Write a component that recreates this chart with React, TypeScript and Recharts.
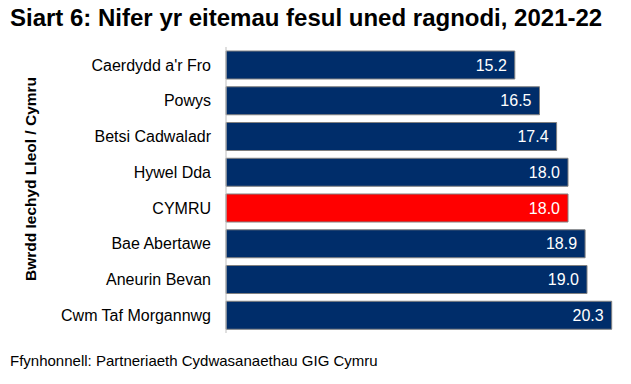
import React from "react";
import { BarChart, Bar, XAxis, YAxis, Cell, LabelList } from "recharts";

const categories = [
  "Caerdydd a'r Fro",
  "Powys",
  "Betsi Cadwaladr",
  "Hywel Dda",
  "CYMRU",
  "Bae Abertawe",
  "Aneurin Bevan",
  "Cwm Taf Morgannwg",
];
const values = [15.2, 16.5, 17.4, 18.0, 18.0, 18.9, 19.0, 20.3];
const highlight = "CYMRU";

const data = categories.map((name, i) => ({ name, value: values[i] }));

const FONT = "'Liberation Sans', Arial, sans-serif";
const NAVY = "#002D6A";
const RED = "#FF0000";

const AxisTitle = () => (
  <text
    x={30}
    y={179}
    transform="rotate(-90 30 179)"
    textAnchor="middle"
    dominantBaseline="central"
    fontFamily={FONT}
    fontSize={15.5}
    fontWeight="bold"
    fill="#000"
  >
    Bwrdd Iechyd Lleol / Cymru
  </text>
);

export default function App() {
  return (
    <div
      style={{
        position: "absolute",
        left: 0,
        top: 0,
        width: 631,
        height: 384,
        background: "#fff",
        fontFamily: FONT,
      }}
    >
      <div
        style={{
          position: "absolute",
          left: 10,
          top: 4,
          fontSize: 24,
          fontWeight: "bold",
          lineHeight: "28px",
          whiteSpace: "nowrap",
          color: "#000",
        }}
      >
        Siart 6: Nifer yr eitemau fesul uned ragnodi, 2021-22
      </div>
      <div style={{ position: "absolute", left: 0, top: 0 }}>
        <BarChart
          width={631}
          height={384}
          data={data}
          layout="vertical"
          margin={{ top: 47, right: 6, bottom: 51, left: 0 }}
        >
          <XAxis type="number" domain={[0, 21]} hide />
          <YAxis
            type="category"
            dataKey="name"
            width={226}
            tickLine={false}
            tickSize={7}
            tickMargin={8}
            axisLine={{ stroke: "#BFBFBF" }}
            tick={{ fill: "#000", fontSize: 16, fontFamily: FONT }}
            interval={0}
            label={<AxisTitle />}
          />
          <Bar
            dataKey="value"
            barSize={28}
            stroke="#808080"
            strokeWidth={1}
            isAnimationActive={false}
          >
            {data.map((d) => (
              <Cell key={d.name} fill={d.name === highlight ? RED : NAVY} />
            ))}
            <LabelList
              dataKey="value"
              position="insideRight"
              offset={8}
              fill="#fff"
              fontSize={16}
              fontFamily={FONT}
              formatter={(v: number) => v.toFixed(1)}
            />
          </Bar>
        </BarChart>
      </div>
      <div
        style={{
          position: "absolute",
          left: 10,
          top: 352,
          fontSize: 15,
          lineHeight: "18px",
          whiteSpace: "nowrap",
          color: "#000",
        }}
      >
        Ffynhonnell: Partneriaeth Cydwasanaethau GIG Cymru
      </div>
    </div>
  );
}
